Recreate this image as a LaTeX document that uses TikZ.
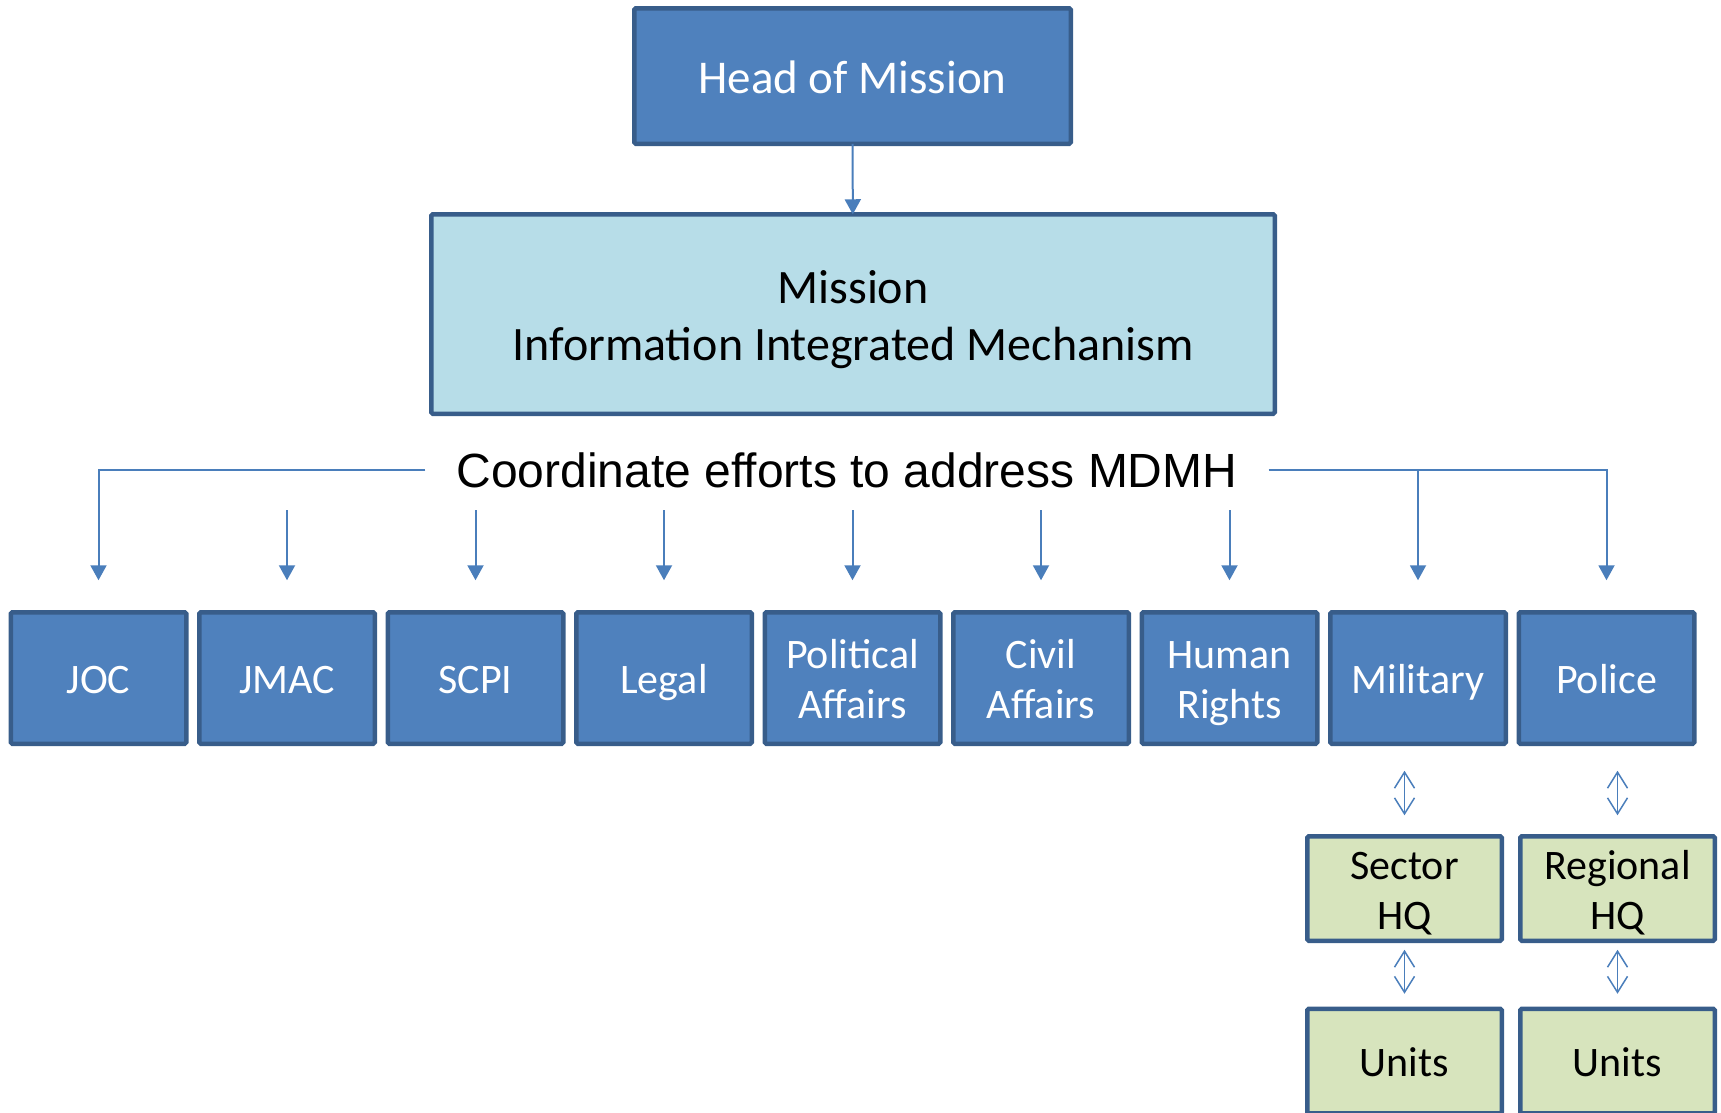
\documentclass[tikz,border=0pt]{standalone}
\usepackage{fontspec}
\setmainfont{Carlito}
\newfontfamily\arialfont{Liberation Sans}
\usetikzlibrary{arrows.meta,chains,positioning}

\definecolor{boxblue}{HTML}{4F81BD}
\definecolor{boxedge}{HTML}{385D8A}
\definecolor{mislight}{HTML}{B7DDE8}
\definecolor{hqgreen}{HTML}{D7E4BD}
\definecolor{lineblue}{HTML}{4A7EBB}

\begin{document}
\begin{tikzpicture}[x=1pt, y=1pt,
node distance=13pt,
    B/.style = {rectangle, draw=boxedge, fill=boxblue, line width=4.5pt,% blue boxes
                text=white, font=\fontsize{42}{50}\selectfont, align=center,
                rounded corners=1.5pt, outer sep=0pt, inner ysep=2pt,
                execute at begin node=\rule{0pt}{0.95em},% same centring for all texts
                execute at end node=\rule[-0.2em]{0pt}{0pt}},
   L2/.style = {execute at begin node=\rule{0pt}{\dimexpr\baselineskip+0.95em\relax}},% two lines
    R/.style = {B, minimum width=175.5pt, minimum height=131.5pt, on chain},% boxes in the row (chain)
    G/.style = {B, fill=hqgreen, text=black,
                minimum width=194.5pt, minimum height=104.5pt},
  arr/.style = {draw=lineblue, line width=2pt, -{Triangle[length=15pt,width=16pt]}},
  dbl/.style = {draw=lineblue, line width=1.5pt,
                {Straight Barb[length=16pt,width=20pt]}-{Straight Barb[length=16pt,width=20pt]}},
                        ]
\useasboundingbox (0,0) rectangle (1721,-1112);
\clip (0,0) rectangle (1721,-1112);
\node[B, minimum width=436.5pt, minimum height=135.5pt,
      font=\fontsize{47}{56}\selectfont] (head) at (852.5,-76) {Head of Mission};
\node[B, L2, fill=mislight, text=black, minimum width=843.5pt, minimum height=199.5pt,
      font=\fontsize{48}{57}\selectfont] (mim) at (853,-314)
      {Mission\\Information Integrated Mechanism};
\node[inner xsep=31pt, inner ysep=0pt,
      font=\arialfont\fontsize{48}{56}\selectfont] (coord) at (847,-470)
      {Coordinate efforts to address MDMH};
\begin{scope}[shift={(98.5,-678)}, start chain=D going right]
\foreach \i/\s in {JOC/,JMAC/,SCPI/,Legal/,Political\\Affairs/L2,Civil\\Affairs/L2,
                   Human\\Rights/L2,Military/,Police/}% <-- row
    \node[R,\s] {\i};
\end{scope}
\node[G, L2] (sec) at (1404.5,-888.5) {Sector\\HQ};
\node[G, L2] (reg) at (1617.5,-888.5) {Regional\\HQ};
\node[G, below=68pt of sec] (secu) {Units};
\node[G, below=68pt of reg] (regu) {Units};
% arrows
\draw[arr] (head) -- (mim);
\draw[arr] (coord.west) -| ([yshift=32pt]D-1.north);
\draw[arr] (coord.east) -| ([yshift=32pt]D-9.north);
\draw[arr] (coord.east -| D-8.north) -- ([yshift=32pt]D-8.north);
\foreach \i in {2,...,7}
    \draw[arr] ([yshift=102pt]D-\i.north) -- ([yshift=32pt]D-\i.north);
\draw[dbl, shorten <=27pt, shorten >=21pt] (D-8.south -| sec.north) -- (sec.north);
\draw[dbl, shorten <=27pt, shorten >=21pt] (D-9.south -| reg.north) -- (reg.north);
\draw[dbl, shorten <=9pt, shorten >=15pt] (sec) -- (secu);
\draw[dbl, shorten <=9pt, shorten >=15pt] (reg) -- (regu);
\end{tikzpicture}
\end{document}
